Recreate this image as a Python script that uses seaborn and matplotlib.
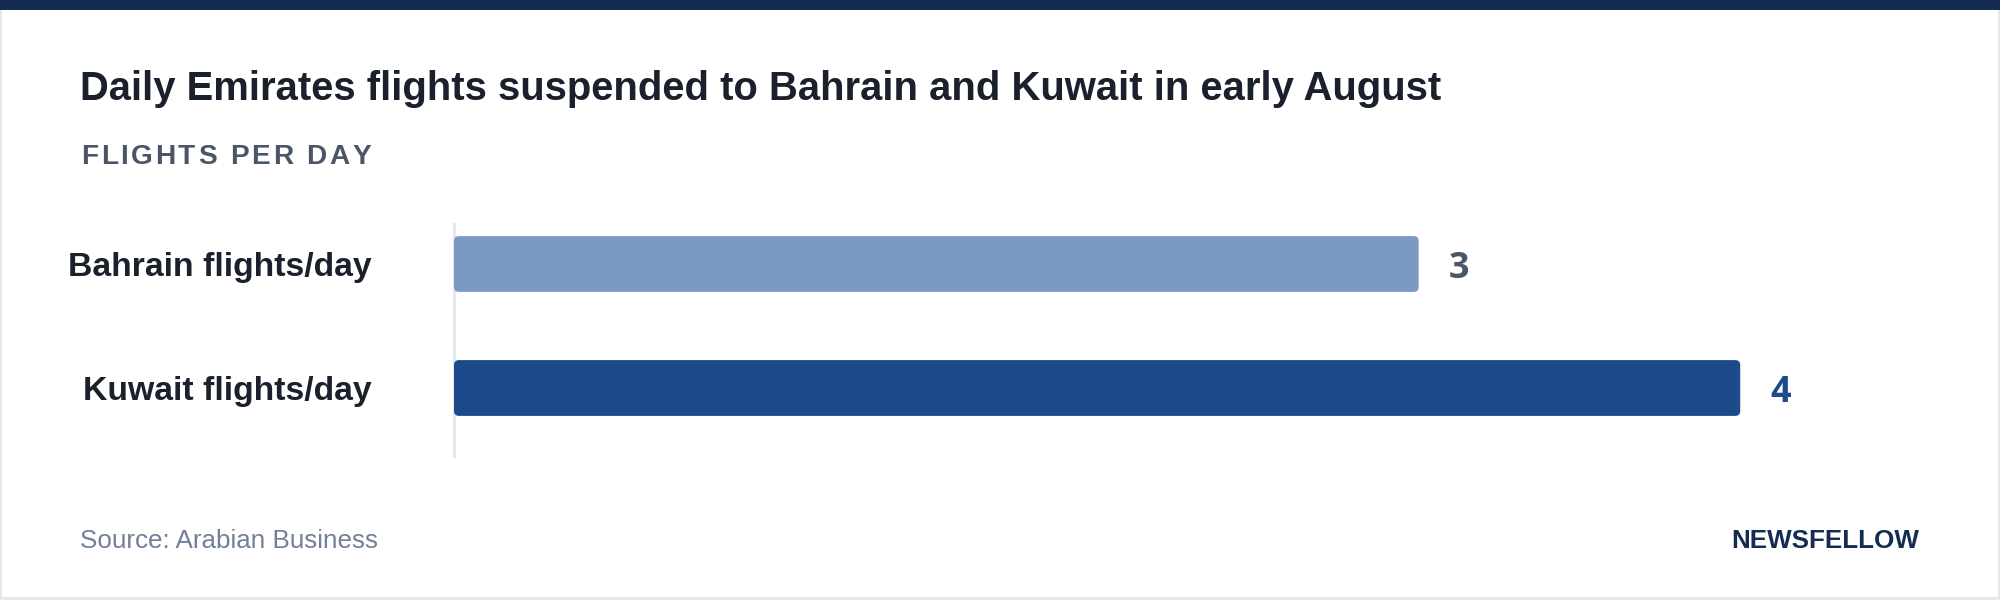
import matplotlib
matplotlib.use("Agg")
import matplotlib.pyplot as plt
import seaborn as sns
import pandas as pd
from matplotlib.patches import Rectangle, FancyBboxPatch
from matplotlib.transforms import ScaledTranslation

# ---- data ----
categories = ["Bahrain flights/day", "Kuwait flights/day"]
values = [3, 4]
bar_colors = ["#7b9ac3", "#1c4a8b"]
value_label_colors = ["#4a5568", "#1c4a8b"]
title = "Daily Emirates flights suspended to Bahrain and Kuwait in early August"
subtitle = "FLIGHTS PER DAY"
source = "Source: Arabian Business"
brand = "NEWSFELLOW"

W, H, DPI = 2000, 600, 100
PT = 72 / DPI  # px -> pt

sns.set_theme(style="white")
plt.rcParams["font.family"] = ["Liberation Sans", "DejaVu Sans"]

fig = plt.figure(figsize=(W / DPI, H / DPI), dpi=DPI)
fig.patch.set_facecolor("white")

# axes placement (pixels, top-origin)
ax_l, ax_r, ax_t, ax_b = 454, 1901, 224, 456
ax = fig.add_axes([ax_l / W, 1 - ax_b / H, (ax_r - ax_l) / W, (ax_b - ax_t) / H])

df = pd.DataFrame({"category": categories, "value": values})
sns.barplot(data=df, x="value", y="category", hue="category", palette=bar_colors,
            orient="h", width=0.45, legend=False, ax=ax, saturation=1, zorder=3)

ax.set_xlim(0, 4.5)
ax.set_ylim(1 + 68 / 124, -40 / 124)

# rounded bar corners
px_per_x = (ax_r - ax_l) / 4.5
px_per_y = 124.0
r_x = 5 / px_per_x
aspect = (5 / px_per_y) / r_x
for p in list(ax.patches):
    x0, y0 = p.get_x(), p.get_y()
    w, h = p.get_width(), p.get_height()
    fc = p.get_facecolor()
    p.remove()
    fb = FancyBboxPatch((x0, y0), w, h,
                        boxstyle=f"round,pad=0,rounding_size={r_x}",
                        mutation_aspect=aspect, facecolor=fc, edgecolor="none", zorder=3)
    ax.add_patch(fb)

# spines / axes
for s in ["top", "right", "bottom"]:
    ax.spines[s].set_visible(False)
ax.spines["left"].set_color("#e2e8f0")
ax.spines["left"].set_linewidth(3 * PT)
ax.spines["left"].set_zorder(2)
ax.xaxis.set_visible(False)
ax.set_ylabel("")
ax.set_xlabel("")
ax.set_facecolor("none")
ax.tick_params(axis="y", length=0, pad=82 * PT)
for lbl in ax.get_yticklabels():
    lbl.set_fontsize(33.8 * PT)
    lbl.set_fontweight("bold")
    lbl.set_color("#1a202c")
    lbl.set_va("baseline")
    lbl.set_transform(lbl.get_transform() + ScaledTranslation(0, -12 / DPI, fig.dpi_scale_trans))

# value labels
for i, (v, c) in enumerate(zip(values, value_label_colors)):
    ax.annotate(f"{v}", xy=(v, i), xytext=(30 * PT, -14 * PT), textcoords="offset points",
                ha="left", va="baseline", fontsize=36 * PT, fontweight="bold",
                color=c, family=["Open Sans", "DejaVu Sans"])

# title
fig.text(80 / W, 1 - 100 / H, title, fontsize=40 * PT, fontweight="bold",
         color="#1a202c", ha="left", va="baseline")

# subtitle with letter spacing
renderer = fig.canvas.get_renderer()
sub_size = 28 * PT
widths = []
for ch in subtitle:
    t = fig.text(0, 0, ch if ch != " " else "n", fontsize=sub_size, fontweight="bold")
    bb = t.get_window_extent(renderer=renderer)
    widths.append(bb.width if ch != " " else bb.width * 0.5)
    t.remove()
target = 290.0
spacing = (target - sum(widths)) / (len(subtitle) - 1)
x = 81.0
for ch, wch in zip(subtitle, widths):
    if ch != " ":
        fig.text(x / W, 1 - 164 / H, ch, fontsize=sub_size, fontweight="bold",
                 color="#4a5568", ha="left", va="baseline")
    x += wch + spacing

# footer
fig.text(80 / W, 1 - 548 / H, source, fontsize=26 * PT, color="#718096",
         ha="left", va="baseline")
fig.text(1919 / W, 1 - 548 / H, brand, fontsize=26 * PT, fontweight="bold",
         color="#152c51", ha="right", va="baseline")

# card borders and top band
fig.add_artist(Rectangle((0, 0), 2 / W, 1, transform=fig.transFigure,
                         facecolor="#e2e8f0", edgecolor="none", zorder=0))
fig.add_artist(Rectangle((1 - 2 / W, 0), 2 / W, 1, transform=fig.transFigure,
                         facecolor="#e2e8f0", edgecolor="none", zorder=0))
fig.add_artist(Rectangle((0, 0), 1, 3 / H, transform=fig.transFigure,
                         facecolor="#e2e8f0", edgecolor="none", zorder=0))
fig.add_artist(Rectangle((0, 1 - 10 / H), 1, 10 / H, transform=fig.transFigure,
                         facecolor="#152c51", edgecolor="none", zorder=5))

fig.savefig("out.png", dpi=DPI, facecolor="white")
